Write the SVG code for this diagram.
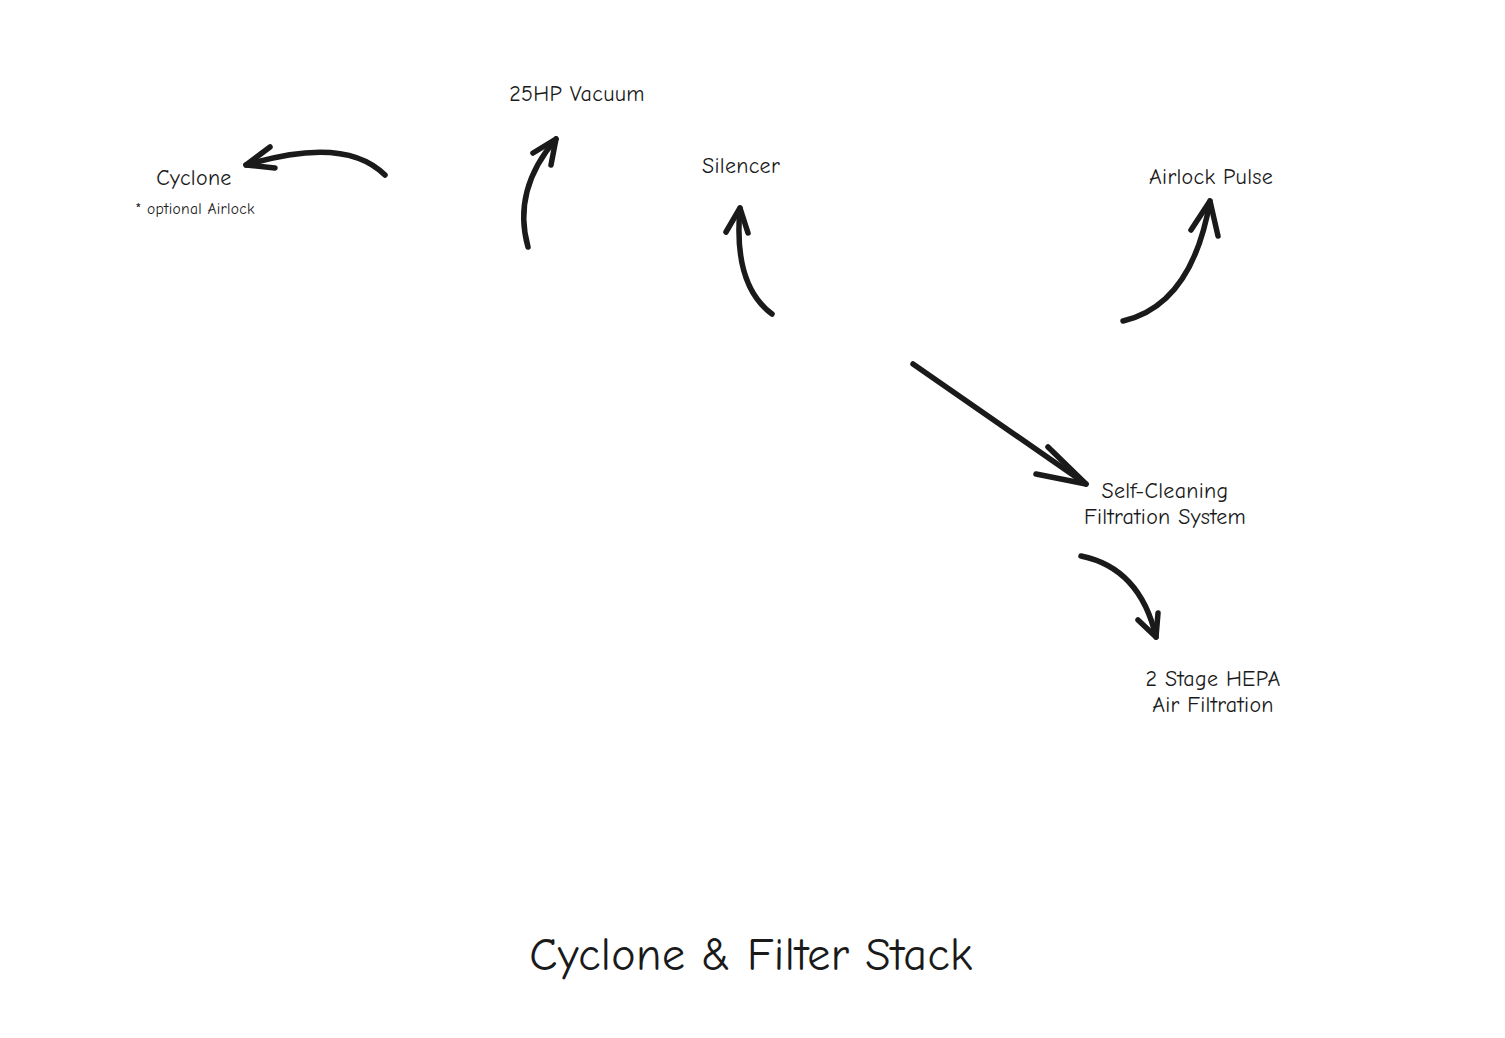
<svg xmlns="http://www.w3.org/2000/svg" width="1505" height="1038" viewBox="0 0 1505 1038">
<style>
.bg{fill:#ffffff}
.lbl{font-family:"Comic Neue","Liberation Sans",sans-serif;font-size:22px;letter-spacing:0.3px;fill:#1a1a1a;text-anchor:middle}
.small{font-size:15.5px;letter-spacing:0.3px}
.title{font-size:46px;letter-spacing:0.4px}
.arr{fill:none;stroke:#1a1a1a;stroke-width:5.5;stroke-linecap:round;stroke-linejoin:round}
</style>
<rect class="bg" x="0" y="0" width="1505" height="1038"/>
<g id="connectors">
  <path class="arr" d="M385,175 Q345,135 246,165"/>
  <path class="arr" d="M270,147 L246,165 L275,168"/>
  <path class="arr" d="M528,247 Q512,190 556,139"/>
  <path class="arr" d="M533,153 L556,139 L551,165"/>
  <path class="arr" d="M772,314 Q733,285 740,208"/>
  <path class="arr" d="M726,232 L740,208 L748,233"/>
  <path class="arr" d="M1123,321 Q1192,305 1210,201"/>
  <path class="arr" d="M1191,230 L1210,201 L1218,236"/>
  <path class="arr" d="M913,364 L1086,484"/>
  <path class="arr" d="M1048,447 L1086,484 L1036,474"/>
  <path class="arr" d="M1081,556 Q1140,568 1156,637"/>
  <path class="arr" d="M1138,620 L1156,637 L1158,613"/>
</g>
<g id="cyclone">
  <text class="lbl" x="194" y="185">Cyclone</text>
  <text class="lbl small" x="195" y="214">* optional Airlock</text>
</g>
<g id="vacuum"><text class="lbl" x="577" y="101">25HP Vacuum</text></g>
<g id="silencer"><text class="lbl" x="741" y="173">Silencer</text></g>
<g id="airlock"><text class="lbl" x="1211" y="184">Airlock Pulse</text></g>
<g id="selfcleaning"><text class="lbl" x="1165" y="498">Self-Cleaning</text><text class="lbl" x="1165" y="524">Filtration System</text></g>
<g id="hepa"><text class="lbl" x="1213" y="686">2 Stage HEPA</text><text class="lbl" x="1213" y="712">Air Filtration</text></g>
<g id="title"><text class="lbl title" x="751" y="970">Cyclone &amp; Filter Stack</text></g>
</svg>
